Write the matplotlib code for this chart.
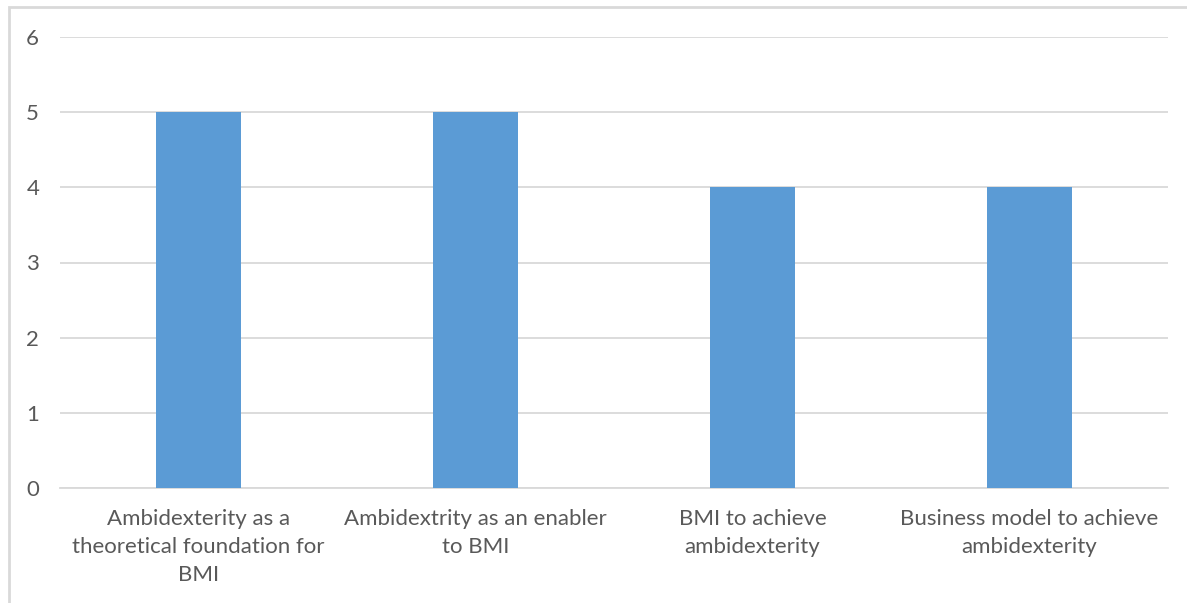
import matplotlib.pyplot as plt
from matplotlib.patches import Rectangle

# --- Data ---
categories = [
    "Ambidexterity as a\ntheoretical foundation for\nBMI",
    "Ambidextrity as an enabler\nto BMI",
    "BMI to achieve\nambidexterity",
    "Business model to achieve\nambidexterity",
]
counts = [5, 5, 4, 4]

plt.rcParams['font.family'] = ['Lato', 'DejaVu Sans']
text_color = "#595959"
grid_color = "#d9d9d9"
bar_color = "#5b9bd5"

fig = plt.figure(figsize=(11.87, 6.03), dpi=100)
ax = fig.add_axes([60 / 1187, 1 - 488 / 603, 1108 / 1187, 451 / 603])

x = range(len(categories))
ax.bar(x, counts, width=0.31, color=bar_color, zorder=3)

ax.set_xlim(-0.5, len(categories) - 0.5)
ax.set_ylim(0, 6)
ax.set_yticks(range(0, 7))
ax.set_xticks(list(x))
ax.set_xticklabels(categories, linespacing=1.5)

ax.grid(axis='y', color=grid_color, linewidth=1.3, zorder=0)
for side in ['top', 'right', 'left']:
    ax.spines[side].set_visible(False)
ax.spines['bottom'].set_color(grid_color)
ax.spines['bottom'].set_linewidth(1.3)

ax.tick_params(axis='both', length=0, colors=text_color, labelsize=16)
ax.tick_params(axis='y', pad=15)
ax.tick_params(axis='x', pad=15)

# light chart-area frame
fig.patches.append(Rectangle((9 / 1187, -0.1), 1.2, 1 - 7 / 603 + 0.1,
                             transform=fig.transFigure, fill=False,
                             edgecolor=grid_color, linewidth=2))

fig.savefig("out.png", dpi=100)
